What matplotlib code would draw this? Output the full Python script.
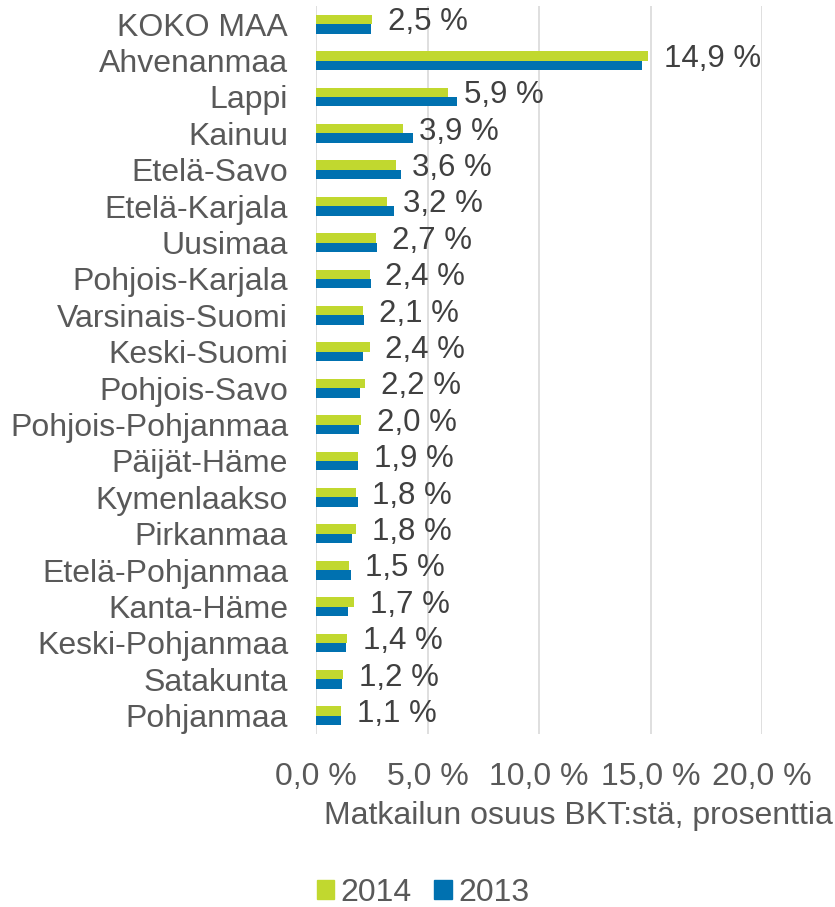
import matplotlib
matplotlib.use('Agg')
import matplotlib.pyplot as plt
from matplotlib.patches import Patch

plt.rc('font', size=23, family=['Liberation Sans', 'DejaVu Sans'])

# data
regions = ['KOKO MAA', 'Ahvenanmaa', 'Lappi', 'Kainuu', 'Etelä-Savo', 'Etelä-Karjala',
           'Uusimaa', 'Pohjois-Karjala', 'Varsinais-Suomi', 'Keski-Suomi', 'Pohjois-Savo',
           'Pohjois-Pohjanmaa', 'Päijät-Häme', 'Kymenlaakso', 'Pirkanmaa',
           'Etelä-Pohjanmaa', 'Kanta-Häme', 'Keski-Pohjanmaa', 'Satakunta', 'Pohjanmaa']
v2014 = [2.5, 14.9, 5.9, 3.9, 3.6, 3.2, 2.7, 2.4, 2.1, 2.4,
         2.2, 2.0, 1.9, 1.8, 1.8, 1.5, 1.7, 1.4, 1.2, 1.1]
v2013 = [2.45, 14.63, 6.32, 4.33, 3.81, 3.48, 2.72, 2.48, 2.17, 2.11,
         1.97, 1.94, 1.88, 1.88, 1.61, 1.55, 1.42, 1.35, 1.17, 1.11]
xticks = [0, 5, 10, 15, 20]

green = '#c1d82f'
blue = '#0071b0'
txt = '#595959'

fig = plt.figure(figsize=(8.35, 9.07), dpi=100)
ax = fig.add_axes([316/835, 1 - 734/907, 446/835, 728/907])

y = list(range(len(regions)))
h = 0.26
ax.barh([i - h/2 for i in y], v2014, height=h, color=green)
ax.barh([i + h/2 for i in y], v2013, height=h, color=blue)

# value labels of 2014
for i, v in enumerate(v2014):
    ax.annotate(('%.1f %%' % v).replace('.', ','), (v, i - 0.05),
                xytext=(11.5, 0), textcoords='offset points',
                ha='left', va='center', color='#404040', fontsize=22.5)

ax.set_xlim(0, 20)
ax.set_ylim(len(regions) - 0.5, -0.5)
ax.set_yticks(y)
ax.set_yticklabels(regions, color=txt)
ax.set_xticks(xticks)
ax.set_xticklabels([('%.1f %%' % t).replace('.', ',') for t in xticks], color=txt)
ax.tick_params(axis='both', length=0)
ax.tick_params(axis='y', pad=20)
ax.tick_params(axis='x', pad=20)
ax.grid(axis='x', color='#d9d9d9', lw=1.2)
ax.set_axisbelow(True)
for s in ax.spines.values():
    s.set_visible(False)

ax.text((578 - 316)/446, -82/728, 'Matkailun osuus BKT:stä, prosenttia',
        transform=ax.transAxes, ha='center', va='center', color=txt)

handles = [Patch(color=green, label='2014'), Patch(color=blue, label='2013')]
fig.legend(handles=handles, loc='center', bbox_to_anchor=(423/835, 1 - 893/907),
           ncol=2, frameon=False, handlelength=0.55, handleheight=0.55,
           handletextpad=0.2, columnspacing=0.7, labelcolor=txt)

plt.savefig('out.png', dpi=100)
